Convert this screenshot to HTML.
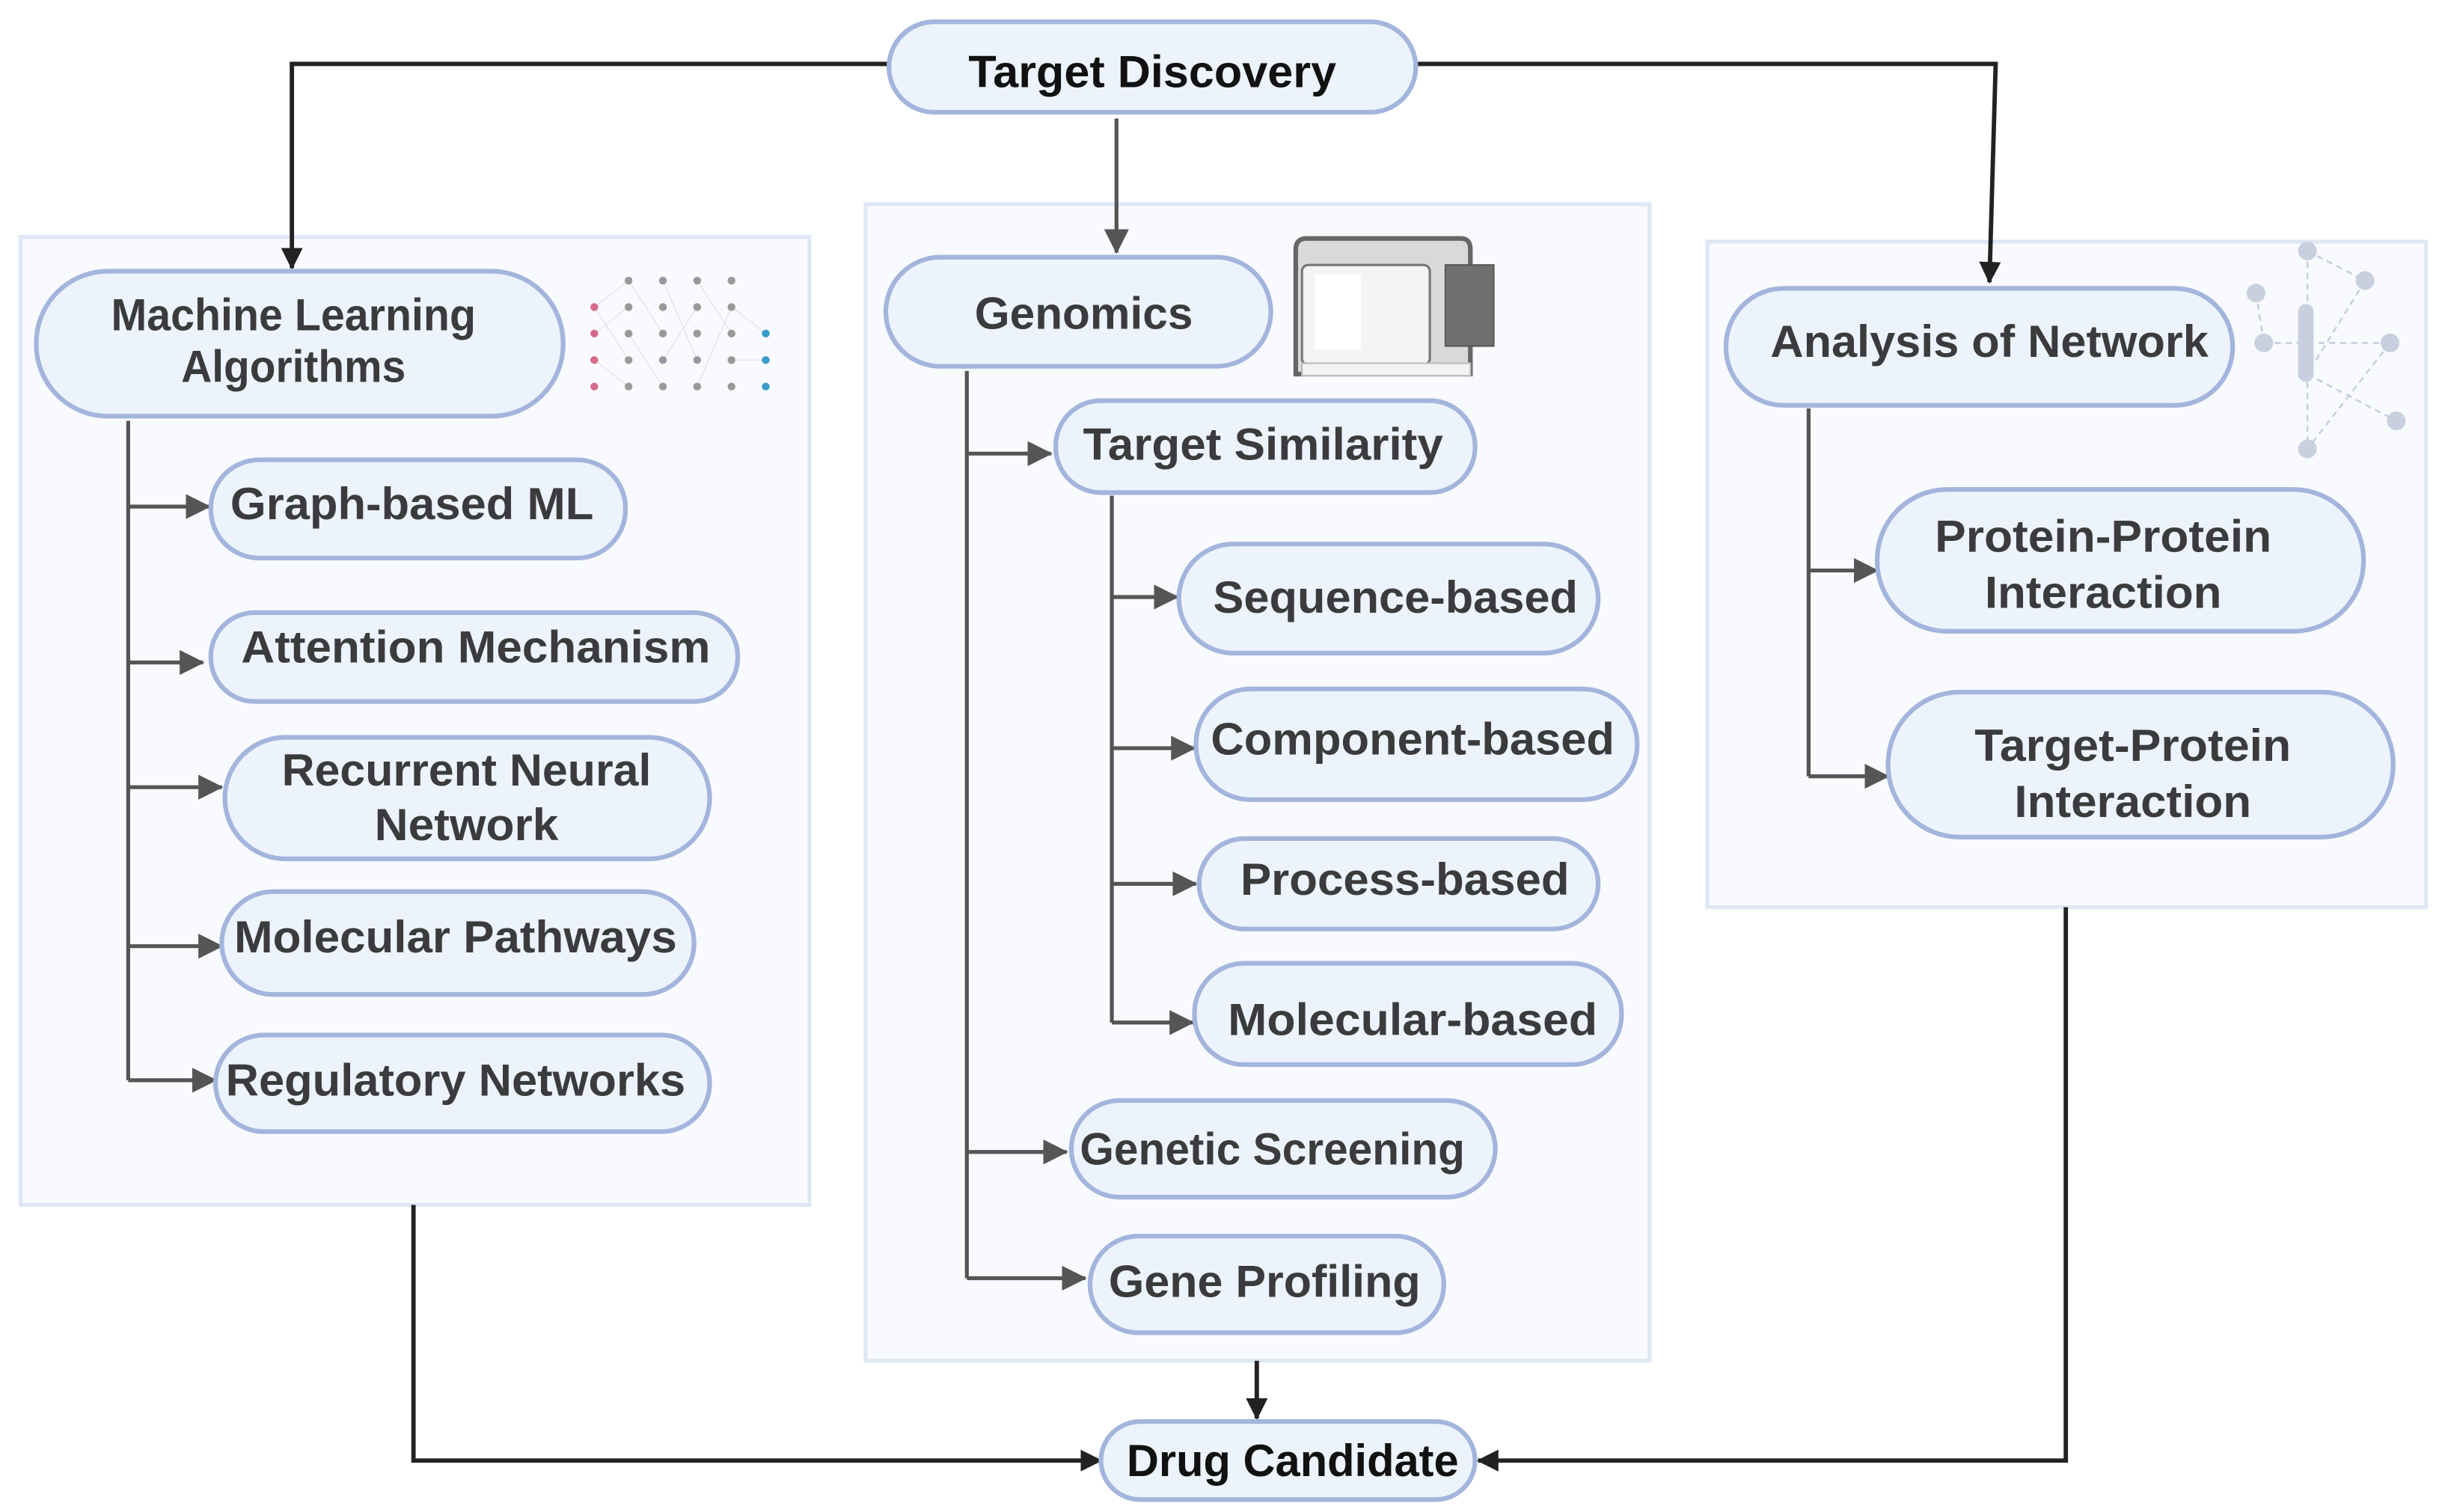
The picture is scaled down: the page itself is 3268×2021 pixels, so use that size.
<!DOCTYPE html>
<html><head><meta charset="utf-8"><style>
html,body{margin:0;padding:0;background:#fff;}
svg{display:block;}
text{font-family:"Liberation Sans",sans-serif;font-weight:bold;fill:#3b3b3d;font-size:29px;text-anchor:middle;}
.k{fill:#111;}
.n{fill:#edf3fc;stroke:#a3b5dc;stroke-width:3;}
.p{fill:#f8fafd;stroke:#dfe7f4;stroke-width:2.5;}
.g{stroke:#555;stroke-width:2.5;fill:none;}
.b{stroke:#222;stroke-width:2.8;fill:none;}
</style></head><body>
<svg width="3268" height="2021" viewBox="0 0 1568 970" xmlns="http://www.w3.org/2000/svg">
<defs>
<marker id="ab" markerWidth="14" markerHeight="14" refX="13" refY="7" orient="auto" markerUnits="userSpaceOnUse"><path d="M0,0 L14,7 L0,14 z" fill="#222"/></marker>
<marker id="agg" markerWidth="16" markerHeight="16" refX="15" refY="8" orient="auto" markerUnits="userSpaceOnUse"><path d="M0,0 L16,8 L0,16 z" fill="#555"/></marker>
</defs>
<rect class="p" x="13" y="152" width="506" height="621"/>
<rect class="p" x="555" y="131" width="503" height="742"/>
<rect class="p" x="1095" y="155" width="461" height="427"/>
<polyline class="b" points="570,41 187,41 187,172" marker-end="url(#ab)"/>
<polyline class="b" points="908,41 1280,41 1276,181" marker-end="url(#ab)"/>
<line class="g" x1="716" y1="76" x2="716" y2="162" marker-end="url(#agg)"/>
<polyline class="b" points="265,773 265,937 706,937" marker-end="url(#ab)"/>
<line class="b" x1="806" y1="873" x2="806" y2="910" marker-end="url(#ab)"/>
<polyline class="b" points="1325,582 1325,937 948,937" marker-end="url(#ab)"/>
<line class="g" x1="82" y1="270" x2="82" y2="693"/>
<line class="g" x1="82" y1="325" x2="134" y2="325" marker-end="url(#agg)"/>
<line class="g" x1="82" y1="425" x2="130" y2="425" marker-end="url(#agg)"/>
<line class="g" x1="82" y1="505" x2="142" y2="505" marker-end="url(#agg)"/>
<line class="g" x1="82" y1="607" x2="142" y2="607" marker-end="url(#agg)"/>
<line class="g" x1="82" y1="693" x2="138" y2="693" marker-end="url(#agg)"/>
<line class="g" x1="620" y1="238" x2="620" y2="820"/>
<line class="g" x1="620" y1="291" x2="674" y2="291" marker-end="url(#agg)"/>
<line class="g" x1="620" y1="739" x2="684" y2="739" marker-end="url(#agg)"/>
<line class="g" x1="620" y1="820" x2="696" y2="820" marker-end="url(#agg)"/>
<line class="g" x1="713" y1="318" x2="713" y2="656"/>
<line class="g" x1="713" y1="383" x2="755" y2="383" marker-end="url(#agg)"/>
<line class="g" x1="713" y1="480" x2="766" y2="480" marker-end="url(#agg)"/>
<line class="g" x1="713" y1="567" x2="767" y2="567" marker-end="url(#agg)"/>
<line class="g" x1="713" y1="656" x2="765" y2="656" marker-end="url(#agg)"/>
<line class="g" x1="1160" y1="262" x2="1160" y2="498"/>
<line class="g" x1="1160" y1="366" x2="1204" y2="366" marker-end="url(#agg)"/>
<line class="g" x1="1160" y1="498" x2="1211" y2="498" marker-end="url(#agg)"/>
<rect class="n" x="570" y="14" width="338" height="58" rx="29"/>
<text class="k" x="739" y="56" textLength="236" lengthAdjust="spacingAndGlyphs">Target Discovery</text>
<rect class="n" x="23" y="174" width="338" height="93" rx="46"/>
<text x="188" y="212" textLength="234" lengthAdjust="spacingAndGlyphs">Machine Learning</text>
<text x="188" y="245" textLength="144" lengthAdjust="spacingAndGlyphs">Algorithms</text>
<rect class="n" x="135" y="295" width="266" height="63" rx="31"/>
<text x="264" y="333" textLength="233" lengthAdjust="spacingAndGlyphs">Graph-based ML</text>
<rect class="n" x="135" y="393" width="338" height="57" rx="28"/>
<text x="305" y="425" textLength="301" lengthAdjust="spacingAndGlyphs">Attention Mechanism</text>
<rect class="n" x="144" y="473" width="311" height="78" rx="39"/>
<text x="299" y="504" textLength="237" lengthAdjust="spacingAndGlyphs">Recurrent Neural</text>
<text x="299" y="539" textLength="118" lengthAdjust="spacingAndGlyphs">Network</text>
<rect class="n" x="142" y="572" width="303" height="66" rx="33"/>
<text x="292" y="611" textLength="284" lengthAdjust="spacingAndGlyphs">Molecular Pathways</text>
<rect class="n" x="138" y="664" width="317" height="62" rx="31"/>
<text x="292" y="703" textLength="295" lengthAdjust="spacingAndGlyphs">Regulatory Networks</text>
<rect class="n" x="568" y="165" width="247" height="70" rx="35"/>
<text x="695" y="211" textLength="140" lengthAdjust="spacingAndGlyphs">Genomics</text>
<rect class="n" x="677" y="257" width="269" height="59" rx="29"/>
<text x="810" y="295" textLength="231" lengthAdjust="spacingAndGlyphs">Target Similarity</text>
<rect class="n" x="756" y="349" width="269" height="70" rx="35"/>
<text x="895" y="393" textLength="234" lengthAdjust="spacingAndGlyphs">Sequence-based</text>
<rect class="n" x="767" y="442" width="283" height="71" rx="35"/>
<text x="906" y="484" textLength="259" lengthAdjust="spacingAndGlyphs">Component-based</text>
<rect class="n" x="769" y="538" width="256" height="58" rx="29"/>
<text x="901" y="574" textLength="211" lengthAdjust="spacingAndGlyphs">Process-based</text>
<rect class="n" x="766" y="618" width="274" height="65" rx="32"/>
<text x="906" y="664" textLength="237" lengthAdjust="spacingAndGlyphs">Molecular-based</text>
<rect class="n" x="687" y="706" width="272" height="62" rx="31"/>
<text x="816" y="747" textLength="247" lengthAdjust="spacingAndGlyphs">Genetic Screening</text>
<rect class="n" x="699" y="793" width="227" height="62" rx="31"/>
<text x="811" y="832" textLength="200" lengthAdjust="spacingAndGlyphs">Gene Profiling</text>
<rect class="n" x="1107" y="185" width="325" height="75" rx="37"/>
<text x="1276" y="229" textLength="281" lengthAdjust="spacingAndGlyphs">Analysis of Network</text>
<rect class="n" x="1204" y="314" width="312" height="91" rx="45"/>
<text x="1349" y="354" textLength="216" lengthAdjust="spacingAndGlyphs">Protein-Protein</text>
<text x="1349" y="390" textLength="152" lengthAdjust="spacingAndGlyphs">Interaction</text>
<rect class="n" x="1211" y="444" width="324" height="93" rx="46"/>
<text x="1368" y="488" textLength="203" lengthAdjust="spacingAndGlyphs">Target-Protein</text>
<text x="1368" y="524" textLength="152" lengthAdjust="spacingAndGlyphs">Interaction</text>
<rect class="n" x="706" y="912" width="240" height="50" rx="25"/>
<text class="k" x="829" y="947" textLength="213" lengthAdjust="spacingAndGlyphs">Drug Candidate</text>
<g fill="#999">
<g stroke="#ddd" stroke-width="0.5">
<path d="M381,197 L403,180 M381,197 L403,231 M381,214 L403,197 M381,231 L403,248 M403,180 L425,214 M403,214 L425,248 M425,180 L447,231 M425,231 L447,197 M447,180 L469,214 M447,248 L469,197 M469,197 L491,214 M469,231 L491,231"/>
</g>
<circle cx="403" cy="180" r="2.5"/><circle cx="425" cy="180" r="2.5"/><circle cx="447" cy="180" r="2.5"/><circle cx="469" cy="180" r="2.5"/>
<circle cx="403" cy="197" r="2.5"/><circle cx="425" cy="197" r="2.5"/><circle cx="447" cy="197" r="2.5"/><circle cx="469" cy="197" r="2.5"/>
<circle cx="403" cy="214" r="2.5"/><circle cx="425" cy="214" r="2.5"/><circle cx="447" cy="214" r="2.5"/><circle cx="469" cy="214" r="2.5"/>
<circle cx="403" cy="231" r="2.5"/><circle cx="425" cy="231" r="2.5"/><circle cx="447" cy="231" r="2.5"/><circle cx="469" cy="231" r="2.5"/>
<circle cx="403" cy="248" r="2.5"/><circle cx="425" cy="248" r="2.5"/><circle cx="447" cy="248" r="2.5"/><circle cx="469" cy="248" r="2.5"/>
<g fill="#d66b8a"><circle cx="381" cy="197" r="2.5"/><circle cx="381" cy="214" r="2.5"/><circle cx="381" cy="231" r="2.5"/><circle cx="381" cy="248" r="2.5"/></g>
<g fill="#3a9cc8"><circle cx="491" cy="214" r="2.5"/><circle cx="491" cy="231" r="2.5"/><circle cx="491" cy="248" r="2.5"/></g>
</g>
<g>
<path d="M831,240 L831,160 Q831,153 838,153 L937,153 Q943,153 943,160 L943,240 Z" fill="#d9d9d9" stroke="#666" stroke-width="3"/>
<rect x="835" y="170" width="82" height="64" rx="4" fill="#f4f4f4" stroke="#777" stroke-width="1.5"/>
<rect x="843" y="176" width="30" height="48" fill="#fff"/>
<rect x="927" y="170" width="31" height="52" fill="#707070" stroke="#555"/>
<rect x="835" y="233" width="108" height="8" fill="#f2f2f2" stroke="#bbb"/>
</g>
<g stroke="#c5cee0" stroke-width="1.2" stroke-dasharray="4,3" fill="none">
<path d="M1480,161 L1517,180 M1480,161 L1480,288 M1447,188 L1452,220 M1452,220 L1533,220 M1517,180 L1480,240 M1533,220 L1480,288 M1480,240 L1537,270"/>
</g>
<g fill="#c8d0e0">
<circle cx="1480" cy="161" r="6"/><circle cx="1517" cy="180" r="6"/><circle cx="1447" cy="188" r="6"/><circle cx="1452" cy="220" r="6"/><circle cx="1533" cy="220" r="6"/><circle cx="1537" cy="270" r="6"/><circle cx="1480" cy="288" r="6"/>
<rect x="1474" y="195" width="10" height="50" rx="5"/>
</g>
</svg>
</body></html>
